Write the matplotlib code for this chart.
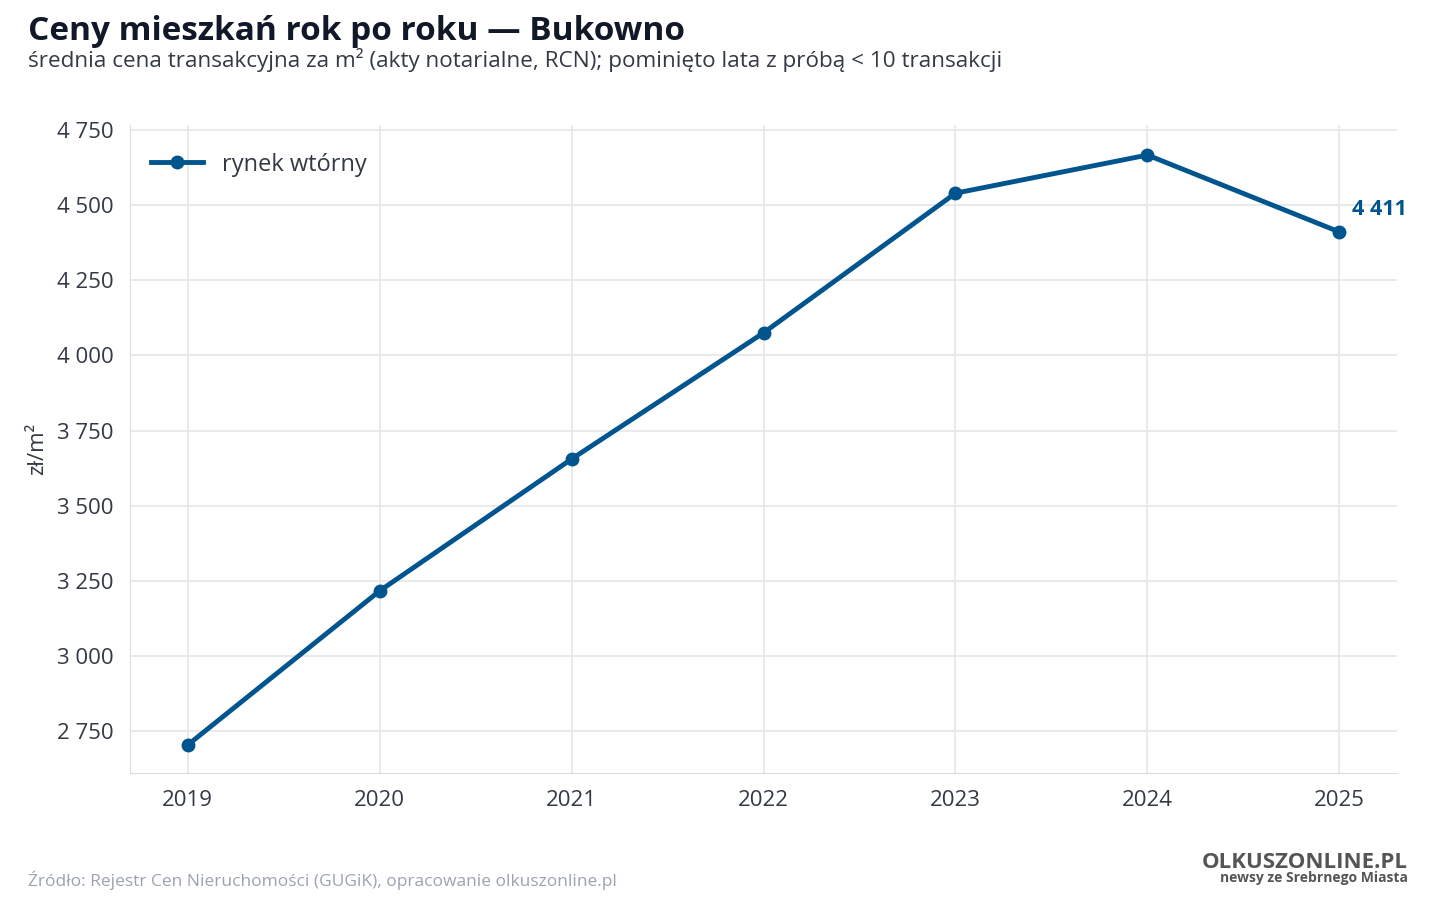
import matplotlib
matplotlib.use("Agg")
import matplotlib.pyplot as plt
from matplotlib.ticker import FuncFormatter

years = [2019, 2020, 2021, 2022, 2023, 2024, 2025]
prices = [2703, 3216, 3655, 4075, 4540, 4667, 4411]
series_label = "rynek wtórny"
yticks = [2750, 3000, 3250, 3500, 3750, 4000, 4250, 4500, 4750]

plt.rcParams['font.family'] = ['Open Sans', 'DejaVu Sans']
color = "#00558f"
fig = plt.figure(figsize=(14.4, 9), dpi=100)
ax = fig.add_axes([130/1440, 1-773/900, (1397-130)/1440, (773-125)/900])
ax.plot(years, prices, color=color, lw=3.5, marker='o', ms=9, label=series_label)
ax.set_xlim(2018.70, 2025.30)
ax.set_ylim(2610, 4767)
ax.set_xticks(years)
ax.set_yticks(yticks)
ax.yaxis.set_major_formatter(FuncFormatter(lambda v, p: f"{int(v):,}".replace(",", " ")))
ax.grid(True, color="#e6e6e6", lw=1.2)
ax.set_axisbelow(True)
for s in ['top', 'right']:
    ax.spines[s].set_visible(False)
for s in ['left', 'bottom']:
    ax.spines[s].set_color("#dddddd")
ax.tick_params(colors="#333a44", labelsize=16, length=0, pad=12)
ax.set_ylabel("zł/m²", fontsize=16, color="#333a44", labelpad=6)
ax.annotate(f"{prices[-1]:,}".replace(",", " "), (years[-1], prices[-1]), xytext=(9, 12),
            textcoords='offset points', color=color, fontsize=15.5, fontweight='bold')
leg = ax.legend(loc='upper left', frameon=False, fontsize=17, handlelength=2.2,
                bbox_to_anchor=(0.0, 0.99))
for t in leg.get_texts():
    t.set_color("#333a44")
fig.text(28/1440, 1-32/900, "Ceny mieszkań rok po roku — Bukowno", fontsize=24,
         fontweight='bold', color="#111827", va='center')
fig.text(28/1440, 1-60/900, "średnia cena transakcyjna za m² (akty notarialne, RCN); pominięto lata z próbą < 10 transakcji",
         fontsize=16.2, color="#333a44", va='center')
fig.text(28/1440, 1-880/900, "Źródło: Rejestr Cen Nieruchomości (GUGiK), opracowanie olkuszonline.pl",
         fontsize=12.5, color="#9ca3af", va='center')
fig.text(1408/1440, 1-862/900, "OLKUSZONLINE.PL", fontsize=16, fontweight='bold',
         color="#555555", ha='right', va='center')
fig.text(1408/1440, 1-878/900, "newsy ze Srebrnego Miasta", fontsize=10, fontweight='bold',
         color="#555555", ha='right', va='center')
fig.savefig("out.png", dpi=100)
